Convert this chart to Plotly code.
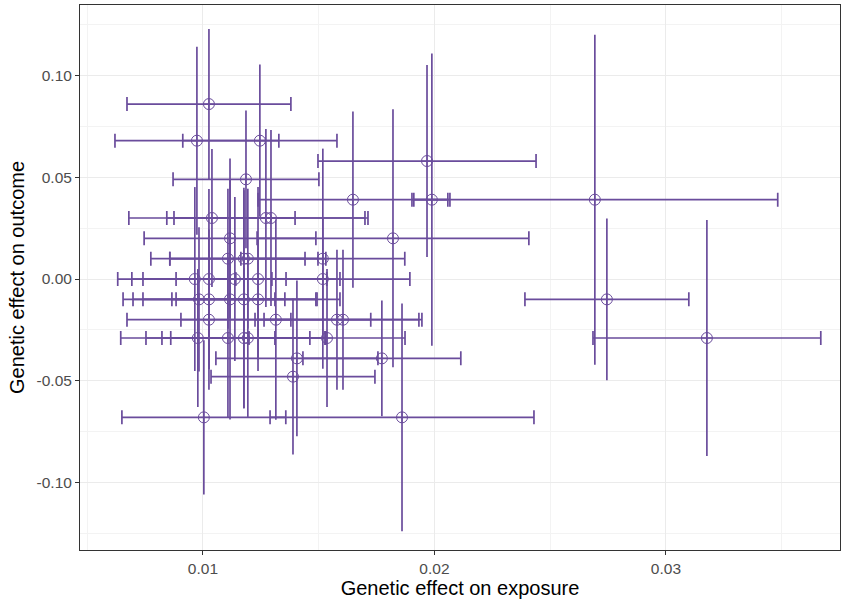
import plotly.graph_objects as go

# exposure effects (x), outcome effects (y) and their error half-widths
bx = [0.01026, 0.00974, 0.01246, 0.01968, 0.01186, 0.01648, 0.01989, 0.02693,
      0.01039, 0.01272, 0.01294, 0.01117, 0.01821, 0.01108, 0.01177, 0.01194,
      0.01518, 0.00965, 0.01026, 0.01138, 0.01238, 0.01518, 0.00983, 0.01026,
      0.01117, 0.01177, 0.01238, 0.02745, 0.01026, 0.01315, 0.01579, 0.01605,
      0.00978, 0.01108, 0.01177, 0.01194, 0.01536, 0.01406, 0.01773, 0.01389,
      0.01004, 0.01860, 0.03177]
by = [0.086, 0.068, 0.068, 0.058, 0.049, 0.039, 0.039, 0.039,
      0.030, 0.030, 0.030, 0.020, 0.020, 0.010, 0.010, 0.010,
      0.010, 0.000, 0.000, 0.000, 0.000, 0.000, -0.010, -0.010,
      -0.010, -0.010, -0.010, -0.010, -0.020, -0.020, -0.020, -0.020,
      -0.029, -0.029, -0.029, -0.029, -0.029, -0.039, -0.039, -0.048,
      -0.068, -0.068, -0.029]
se_x = [0.00354, 0.00354, 0.00333, 0.00471, 0.00315, 0.00410, 0.00078, 0.00790,
        0.00359, 0.00428, 0.00419, 0.00371, 0.00587, 0.00333, 0.00320, 0.00337,
        0.00354, 0.00333, 0.00333, 0.00397, 0.00354, 0.00376, 0.00328, 0.00328,
        0.00376, 0.00311, 0.00354, 0.00354, 0.00354, 0.00410, 0.00354, 0.00341,
        0.00333, 0.00354, 0.00354, 0.00333, 0.00337, 0.00350, 0.00341, 0.00354,
        0.00354, 0.00570, 0.00492]
se_y = [0.0369, 0.0462, 0.0374, 0.0472, 0.0339, 0.0433, 0.0718, 0.0811,
        0.0339, 0.0438, 0.0433, 0.0393, 0.0634, 0.0344, 0.0349, 0.0344,
        0.0541, 0.0452, 0.0442, 0.0403, 0.0452, 0.0295, 0.0354, 0.0344,
        0.0590, 0.0536, 0.0295, 0.0398, 0.0344, 0.0492, 0.0344, 0.0344,
        0.0339, 0.0393, 0.0344, 0.0388, 0.0339, 0.0383, 0.0285, 0.0383,
        0.0379, 0.0560, 0.0580]

x_ticks = [0.01, 0.02, 0.03]
x_ticklabels = ["0.01", "0.02", "0.03"]
y_ticks = [-0.10, -0.05, 0.00, 0.05, 0.10]
y_ticklabels = ["-0.10", "-0.05", "0.00", "0.05", "0.10"]

purple = "#6a4c9c"
font_family = "Liberation Sans, Arial, sans-serif"

fig = go.Figure()
fig.add_trace(go.Scatter(
    x=bx, y=by, mode="markers",
    marker=dict(symbol="circle-cross-open", size=11, color=purple,
                line=dict(width=1, color=purple)),
    error_x=dict(type="data", array=se_x, visible=True, color=purple,
                 thickness=1.7, width=7),
    error_y=dict(type="data", array=se_y, visible=True, color=purple,
                 thickness=1.7, width=0),
    showlegend=False,
))

axis_common = dict(
    showline=True, linecolor="#333333", linewidth=1, mirror=True,
    ticks="outside", ticklen=4, tickcolor="#333333", tickwidth=1,
    showgrid=True, gridcolor="#ebebeb", gridwidth=1, zeroline=False,
    automargin=False,
    tickfont=dict(family=font_family, size=15.5, color="#4d4d4d"),
    title_font=dict(family=font_family, size=20, color="#000000"),
)

fig.update_layout(
    width=849, height=605,
    margin=dict(l=80, r=9, t=5, b=55),
    paper_bgcolor="white", plot_bgcolor="white",
    xaxis=dict(range=[0.00469, 0.03752], tickvals=x_ticks, ticktext=x_ticklabels,
               title=dict(text="Genetic effect on exposure", standoff=3),
               minor=dict(dtick=0.005, tick0=0.005, showgrid=True,
                          gridcolor="#f3f3f3", gridwidth=0.7, ticks=""),
               **axis_common),
    yaxis=dict(range=[-0.1332, 0.1347], tickvals=y_ticks, ticktext=y_ticklabels,
               title=dict(text="Genetic effect on outcome", standoff=6),
               minor=dict(dtick=0.025, tick0=0.025, showgrid=True,
                          gridcolor="#f3f3f3", gridwidth=0.7, ticks=""),
               **axis_common),
)

fig.write_html(
    "out.html",
    config={"displayModeBar": False},
    post_script="document.body.style.margin='0';document.body.style.padding='0';",
)
